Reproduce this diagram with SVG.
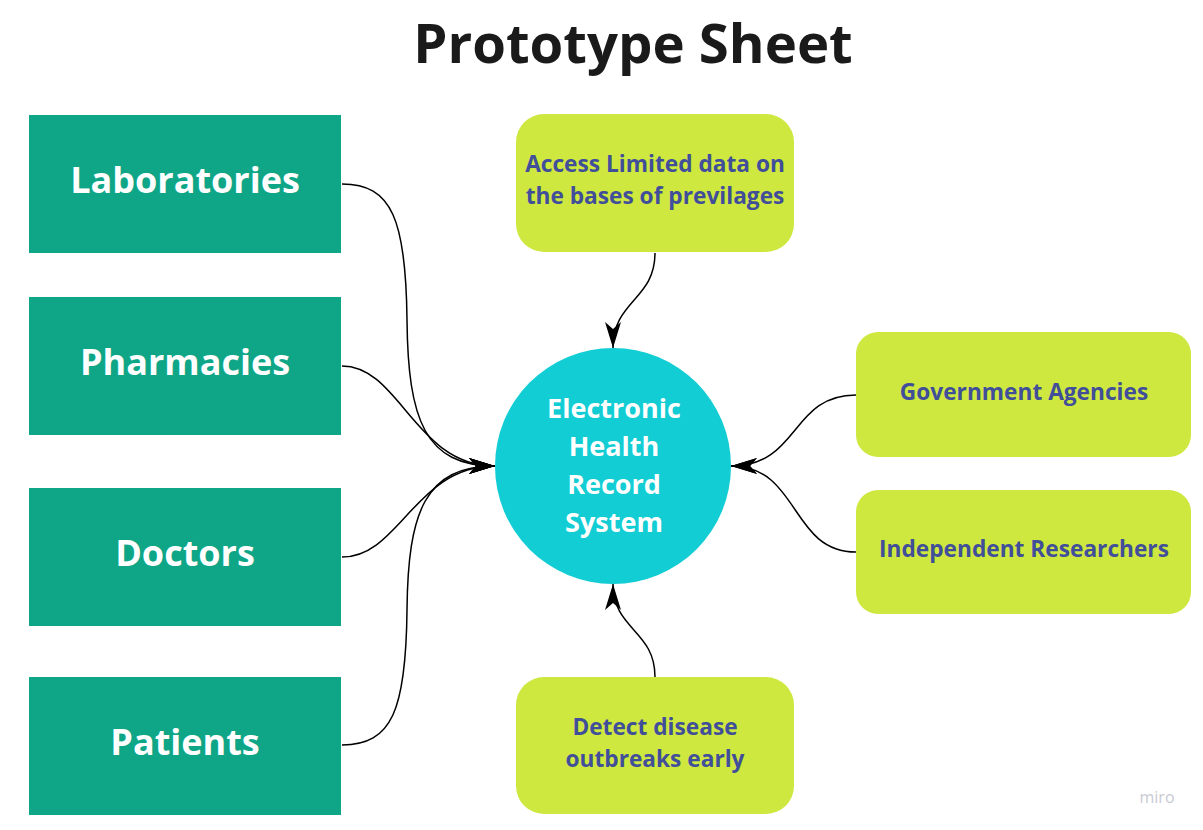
<svg xmlns="http://www.w3.org/2000/svg" width="1203" height="830" viewBox="0 0 1203 830">
<style>
.lb{fill:#0fa688}
.lt{fill:#fff;font-family:"Open Sans","Noto Sans",sans-serif;font-weight:bold;font-size:36px;text-anchor:middle}
.yb{fill:#cfe840}
.yt{fill:#414e99;font-family:"Open Sans","Noto Sans",sans-serif;font-weight:bold;font-size:22.7px;text-anchor:middle}
.ct{fill:#fff;font-family:"Open Sans","Noto Sans",sans-serif;font-weight:bold;font-size:27px;text-anchor:middle}
.c{fill:none;stroke:#000;stroke-width:1.5}
</style>
<defs>
<marker id="ah" viewBox="0 0 26 16" refX="26" refY="8" markerWidth="26" markerHeight="16" markerUnits="userSpaceOnUse" orient="auto">
<path d="M0,0 L26,8 L0,16 L7,8 Z" fill="#000"/>
</marker>
</defs>
<rect width="1203" height="830" fill="#fff"/>
<text x="633" y="63" font-family="'Open Sans','Noto Sans',sans-serif" font-weight="bold" font-size="54.5" text-anchor="middle" fill="#1a1a1a">Prototype Sheet</text>
<g id="connectors">
<path class="c" d="M342,184 C392,184 406,220 407,320 C408,420 425,466 495,466" marker-end="url(#ah)"/>
<path class="c" d="M342,366 C400,366 415,466 495,466" marker-end="url(#ah)"/>
<path class="c" d="M342,557 C400,557 415,466 495,466" marker-end="url(#ah)"/>
<path class="c" d="M342,745 C392,745 406,710 407,610 C408,512 425,466 495,466" marker-end="url(#ah)"/>
<path class="c" d="M655,253 C655,300 613,300 613,348" marker-end="url(#ah)"/>
<path class="c" d="M655,677 C655,630 613,630 613,584" marker-end="url(#ah)"/>
<path class="c" d="M856,395 C790,395 800,466 731,466" marker-end="url(#ah)"/>
<path class="c" d="M856,552 C790,552 800,466 731,466" marker-end="url(#ah)"/>
</g>
<g id="laboratories"><rect class="lb" x="29" y="115" width="312" height="138"/><text class="lt" x="185" y="193">Laboratories</text></g>
<g id="pharmacies"><rect class="lb" x="29" y="297" width="312" height="138"/><text class="lt" x="185" y="375">Pharmacies</text></g>
<g id="doctors"><rect class="lb" x="29" y="488" width="312" height="138"/><text class="lt" x="185" y="566">Doctors</text></g>
<g id="patients"><rect class="lb" x="29" y="677" width="312" height="138"/><text class="lt" x="185" y="755">Patients</text></g>
<g id="ehr"><circle cx="613" cy="466" r="118" fill="#13cdd4"/>
<text class="ct" x="614" y="418">Electronic</text><text class="ct" x="614" y="456">Health</text><text class="ct" x="614" y="494">Record</text><text class="ct" x="614" y="532">System</text></g>
<g id="access"><rect class="yb" x="516" y="114" width="278" height="138" rx="28"/><text class="yt" x="655" y="172">Access Limited data on</text><text class="yt" x="655" y="204">the bases of previlages</text></g>
<g id="government"><rect class="yb" x="856" y="332" width="335" height="125" rx="22"/><text class="yt" x="1024" y="400">Government Agencies</text></g>
<g id="researchers"><rect class="yb" x="856" y="490" width="335" height="124" rx="22"/><text class="yt" x="1024" y="557">Independent Researchers</text></g>
<g id="detect"><rect class="yb" x="516" y="677" width="278" height="137" rx="28"/><text class="yt" x="655" y="735">Detect disease</text><text class="yt" x="655" y="767">outbreaks early</text></g>
<text x="1157" y="803" font-family="'Open Sans','Noto Sans',sans-serif" font-size="16" fill="#c9c9d2" text-anchor="middle">miro</text>
</svg>
